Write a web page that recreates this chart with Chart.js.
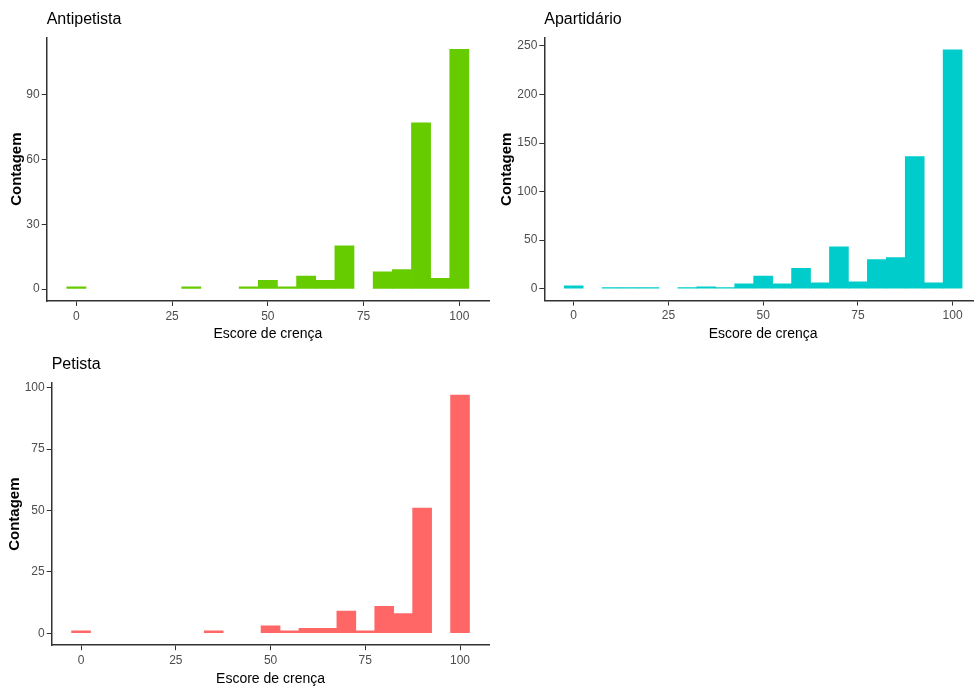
<!DOCTYPE html>
<html><head><meta charset="utf-8">
<script src="https://cdn.jsdelivr.net/npm/chart.js@4"></script>
<style>
html,body{margin:0;padding:0;background:#fff;overflow:hidden;width:974px;height:689px;position:relative}
canvas{position:absolute}
</style></head><body>
<canvas id="cA" width="490" height="345" style="left:0;top:0"></canvas>
<canvas id="cB" width="500" height="345" style="left:490px;top:0"></canvas>
<canvas id="cC" width="490" height="344" style="left:0;top:345px"></canvas>
<script>
// ---- data (bin centres of the histogram, binwidth 5) ----
const binCenters = [0,5,10,15,20,25,30,35,40,45,50,55,60,65,70,75,80,85,90,95,100];
const antipetista = [1,0,0,0,0,0,1,0,0,1,4,1,6,4,20,0,8,9,77,5,111];
const apartidario = [3,0,1,1,1,0,1,2,1,5,13,5,21,6,43,7,30,32,136,6,246];
const petista     = [1,0,0,0,0,0,0,1,0,0,3,1,2,2,9,1,11,8,51,0,97];

const xTicks = [0,25,50,75,100];
const yTicksAntipetista = [0,30,60,90];
const yTicksApartidario = [0,50,100,150,200,250];
const yTicksPetista = [0,25,50,75,100];

const panelTitles = ['Antipetista','Apartidário','Petista'];
const xTitle = 'Escore de crença';
const yTitle = 'Contagem';

const FONT = "'Liberation Sans', Arial, Helvetica, sans-serif";

function histogram(id, name, counts, color, yTicks, g) {
  const ymax = Math.max(...counts);
  const binW = 5;
  const xLo = binCenters[0] - binW/2, xHi = binCenters[binCenters.length-1] + binW/2;
  const xPad = (xHi - xLo) * 0.05;
  new Chart(document.getElementById(id), {
    type: 'bar',
    data: { datasets: [{
      // empty bins are not drawn (as in ggplot)
      data: binCenters.map((x,i) => ({x: x, y: counts[i] === 0 ? null : counts[i]})),
      backgroundColor: color, borderWidth: 0,
      barPercentage: 1, categoryPercentage: 1
    }]},
    options: {
      responsive: false, animation: false, events: [],
      layout: { padding: { left: 0, right: g.right, top: 0, bottom: 0 } },
      plugins: {
        legend: { display: false }, tooltip: { enabled: false },
        title: { display: true, text: name, align: 'start', fullSize: false, color: '#000',
          font: { family: FONT, size: 16, weight: 'normal' },
          padding: { top: g.tTop, bottom: g.tBot } }
      },
      scales: {
        x: { type: 'linear', min: xLo - xPad, max: xHi + xPad, offset: false,
          afterBuildTicks: ax => { ax.ticks = xTicks.map(v => ({value: v})); },
          afterFit: ax => { ax.height = g.xH; },
          grid: { display: true, drawOnChartArea: false, drawTicks: true, tickLength: 5, color: '#333', lineWidth: 1, offset: false },
          border: { display: true, color: '#333', width: 1.5 },
          ticks: { color: '#4d4d4d', font: { family: FONT, size: 12 }, padding: 3, maxRotation: 0, autoSkip: false },
          title: { display: true, text: xTitle, color: '#000', font: { family: FONT, size: 14 }, padding: { top: 0, bottom: g.xtPad } }
        },
        y: { type: 'linear', min: -0.05 * ymax, max: 1.05 * ymax,
          afterBuildTicks: ax => { ax.ticks = yTicks.map(v => ({value: v})); },
          afterFit: ax => { ax.width = g.yW; },
          grid: { display: true, drawOnChartArea: false, drawTicks: true, tickLength: 5, color: '#333', lineWidth: 1 },
          border: { display: true, color: '#333', width: 1.5 },
          ticks: { color: '#4d4d4d', font: { family: FONT, size: 12 }, padding: 2, autoSkip: false },
          title: { display: true, text: yTitle, color: '#000', font: { family: FONT, size: 15, weight: 'bold' }, padding: { top: g.ytPad, bottom: 0 } }
        }
      }
    }
  });
}

histogram('cA', panelTitles[0], antipetista, '#66CC00', yTicksAntipetista,
  { right: 1, tTop: 9.9, tBot: 8.2, xH: 44, xtPad: 2.3, yW: 46.7, ytPad: 7.6 });
histogram('cB', panelTitles[1], apartidario, '#00CCCC', yTicksApartidario,
  { right: 8, tTop: 10.4, tBot: 8.3, xH: 44.4, xtPad: 2.6, yW: 54.3, ytPad: 8.3 });
histogram('cC', panelTitles[2], petista, '#FF6666', yTicksPetista,
  { right: 0.6, tTop: 10.1, tBot: 8.9, xH: 43.8, xtPad: 1.3, yW: 51.7, ytPad: 6 });
</script>
</body></html>
